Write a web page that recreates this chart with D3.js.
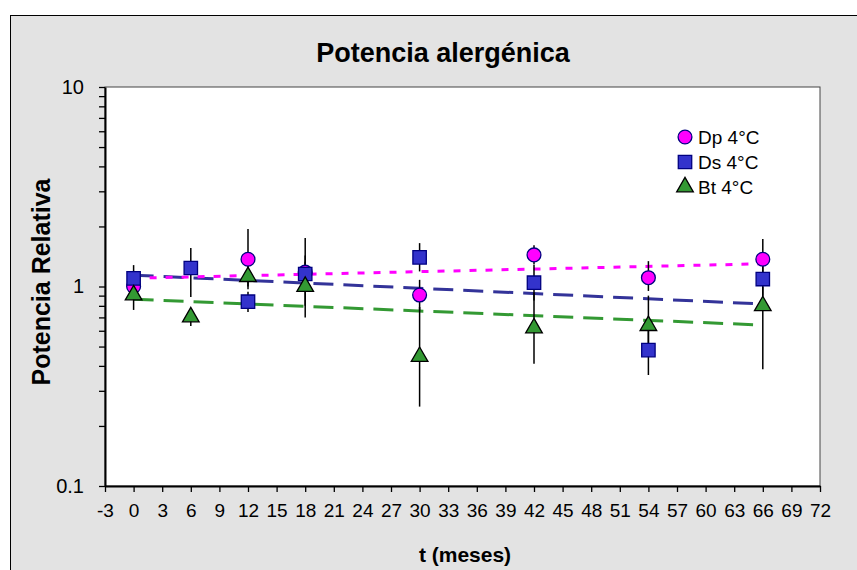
<!DOCTYPE html>
<html>
<head>
<meta charset="utf-8">
<script src="https://cdn.jsdelivr.net/npm/d3@7"></script>
<style>
  body { margin: 0; background: #fff; }
  svg { display: block; font-family: "Liberation Sans", Arial, sans-serif; }
</style>
</head>
<body>
<script>
// months of storage
const months = [0, 6, 12, 18, 30, 42, 54, 66];

// relative potency per series (null = not shown)
const dp = [1.0, null, 1.37, 1.18, 0.906, 1.44, 1.107, 1.37];
const dpLo = [0.90, null, 0.97, 0.80, 0.76, 1.29, 0.95, 1.08];
const dpHi = [1.10, null, 1.94, 1.75, 1.08, 1.61, 1.34, 1.73];

const ds = [1.099, 1.238, 0.839, 1.155, 1.40, 1.045, 0.48, 1.09];
const dsLo = [0.95, 0.886, 0.745, 1.0, 1.19, 0.85, 0.36, 0.90];
const dsHi = [1.28, 1.56, 0.94, 1.33, 1.65, 1.28, 0.64, 1.32];

const bt = [0.906, 0.703, 1.12, 1.0, 0.445, 0.619, 0.636, 0.80];
const btLo = [0.763, 0.634, 1.0, 0.70, 0.25, 0.41, 0.45, 0.385];
const btHi = [1.08, 0.78, 1.25, 1.43, 0.79, 0.93, 0.90, 1.0];

// trend lines: value at first and last month
const trendT = [0, 66];
const dpTrend = [1.10, 1.30];
const dsTrend = [1.14, 0.817];
const btTrend = [0.863, 0.641];

const xTicks = d3.range(-3, 73, 3);
const yLabels = [0.1, 1, 10];
const seriesNames = ["Dp 4°C", "Ds 4°C", "Bt 4°C"];

const W = 857, H = 570;
const m = { left: 105, right: 820, top: 87, bottom: 486 };

const svg = d3.select("body").append("svg")
  .attr("width", W)
  .attr("height", H);

// chart frame
svg.append("rect")
  .attr("x", 10.5).attr("y", 15.5)
  .attr("width", W + 20).attr("height", H + 20)
  .attr("fill", "#e3e3e3")
  .attr("stroke", "#000");

// plot area
svg.append("rect")
  .attr("x", m.left).attr("y", m.top)
  .attr("width", m.right - m.left).attr("height", m.bottom - m.top)
  .attr("fill", "#fff")
  .attr("stroke", "#444")
  .attr("stroke-width", 1);

let x = d3.scaleLinear().domain([-3, 72]).range([m.left, m.right]);
let y = d3.scaleLog().domain([0.1, 10]).range([m.bottom, m.top]);

// x axis
let xAxis = d3.axisBottom(x).tickValues(xTicks).tickSize(6).tickSizeOuter(0)
  .tickFormat(function (d) { return String(d); });
let gx = svg.append("g")
  .attr("transform", "translate(0," + m.bottom + ")")
  .call(xAxis);
gx.select(".domain").attr("stroke-width", 2);
gx.selectAll(".tick line").attr("stroke-width", 1.3);
gx.selectAll("text")
  .attr("font-size", 19)
  .attr("font-family", "Liberation Sans, Arial, sans-serif")
  .attr("y", 31)
  .attr("dy", 0)
  .attr("fill", "#000");

// y axis (log)
let yTickVals = [];
[0.1, 1].forEach(function (d) {
  for (let k = 1; k < 10; k++) yTickVals.push(d * k);
});
yTickVals.push(10);
let yAxis = d3.axisLeft(y).tickValues(yTickVals).tickSize(6).tickSizeOuter(0)
  .tickFormat(function (d) {
    return yLabels.some(function (v) { return Math.abs(v - d) < 1e-9; }) ? d3.format("~g")(d) : "";
  });
let gy = svg.append("g")
  .attr("transform", "translate(" + m.left + ",0)")
  .call(yAxis);
gy.select(".domain").attr("stroke-width", 2);
gy.selectAll(".tick line").attr("stroke-width", 1.3);
gy.selectAll("text")
  .attr("font-size", 20)
  .attr("font-family", "Liberation Sans, Arial, sans-serif")
  .attr("x", -21)
  .attr("fill", "#000");

// title and axis labels
svg.append("text")
  .attr("x", 443).attr("y", 62)
  .attr("text-anchor", "middle")
  .attr("font-size", 27)
  .attr("font-weight", "bold")
  .text("Potencia alergénica");

svg.append("text")
  .attr("x", 465).attr("y", 562)
  .attr("text-anchor", "middle")
  .attr("font-size", 21)
  .attr("font-weight", "bold")
  .text("t (meses)");

svg.append("text")
  .attr("transform", "translate(50,282) rotate(-90)")
  .attr("text-anchor", "middle")
  .attr("font-size", 25)
  .attr("font-weight", "bold")
  .text("Potencia Relativa");

// trend lines
let trend = d3.line()
  .x(function (d, i) { return x(trendT[i]); })
  .y(function (d) { return y(d); });

let plot = svg.append("g");

plot.append("path").datum(btTrend)
  .attr("d", trend).attr("fill", "none")
  .attr("stroke", "#339933").attr("stroke-width", 3)
  .attr("stroke-dasharray", "20,10");
plot.append("path").datum(dsTrend)
  .attr("d", trend).attr("fill", "none")
  .attr("stroke", "#333399").attr("stroke-width", 3)
  .attr("stroke-dasharray", "20,10");
plot.append("path").datum(dpTrend)
  .attr("d", trend).attr("fill", "none")
  .attr("stroke", "#ff00ff").attr("stroke-width", 3)
  .attr("stroke-dasharray", "7,9");

// error bars and markers for each series
const series = [
  { v: dp, lo: dpLo, hi: dpHi, shape: d3.symbolCircle, size: 150, fill: "#ff00ff", stroke: "#000080" },
  { v: ds, lo: dsLo, hi: dsHi, shape: d3.symbolSquare, size: 180, fill: "#3333cc", stroke: "#000080" },
  { v: bt, lo: btLo, hi: btHi, shape: d3.symbolTriangle, size: 120, fill: "#339933", stroke: "#000" }
];

series.forEach(function (s) {
  let pts = months.map(function (t, i) {
    return { t: t, v: s.v[i], lo: s.lo[i], hi: s.hi[i] };
  }).filter(function (d) { return d.v != null; });

  plot.selectAll(null)
    .data(pts)
    .enter()
    .append("line")
    .attr("x1", function (d) { return x(d.t); })
    .attr("x2", function (d) { return x(d.t); })
    .attr("y1", function (d) { return y(d.lo); })
    .attr("y2", function (d) { return y(d.hi); })
    .attr("stroke", "#000")
    .attr("stroke-width", 1.5);
});

series.forEach(function (s) {
  let pts = months.map(function (t, i) {
    return { t: t, v: s.v[i] };
  }).filter(function (d) { return d.v != null; });

  plot.selectAll(null)
    .data(pts)
    .enter()
    .append("path")
    .attr("d", d3.symbol().type(s.shape).size(s.size))
    .attr("transform", function (d) {
      return "translate(" + x(d.t) + "," + y(d.v) + ")";
    })
    .attr("fill", s.fill)
    .attr("stroke", s.stroke)
    .attr("stroke-width", 1.3);
});

// legend
let legend = svg.append("g").attr("transform", "translate(685,137)");
series.forEach(function (s, i) {
  let row = legend.append("g").attr("transform", "translate(0," + i * 25 + ")");
  row.append("path")
    .attr("d", d3.symbol().type(s.shape).size(s.size))
    .attr("fill", s.fill)
    .attr("stroke", s.stroke)
    .attr("stroke-width", 1.3);
  row.append("text")
    .attr("x", 13).attr("y", 7)
    .attr("font-size", 19)
    .text(seriesNames[i]);
});
</script>
</body>
</html>
